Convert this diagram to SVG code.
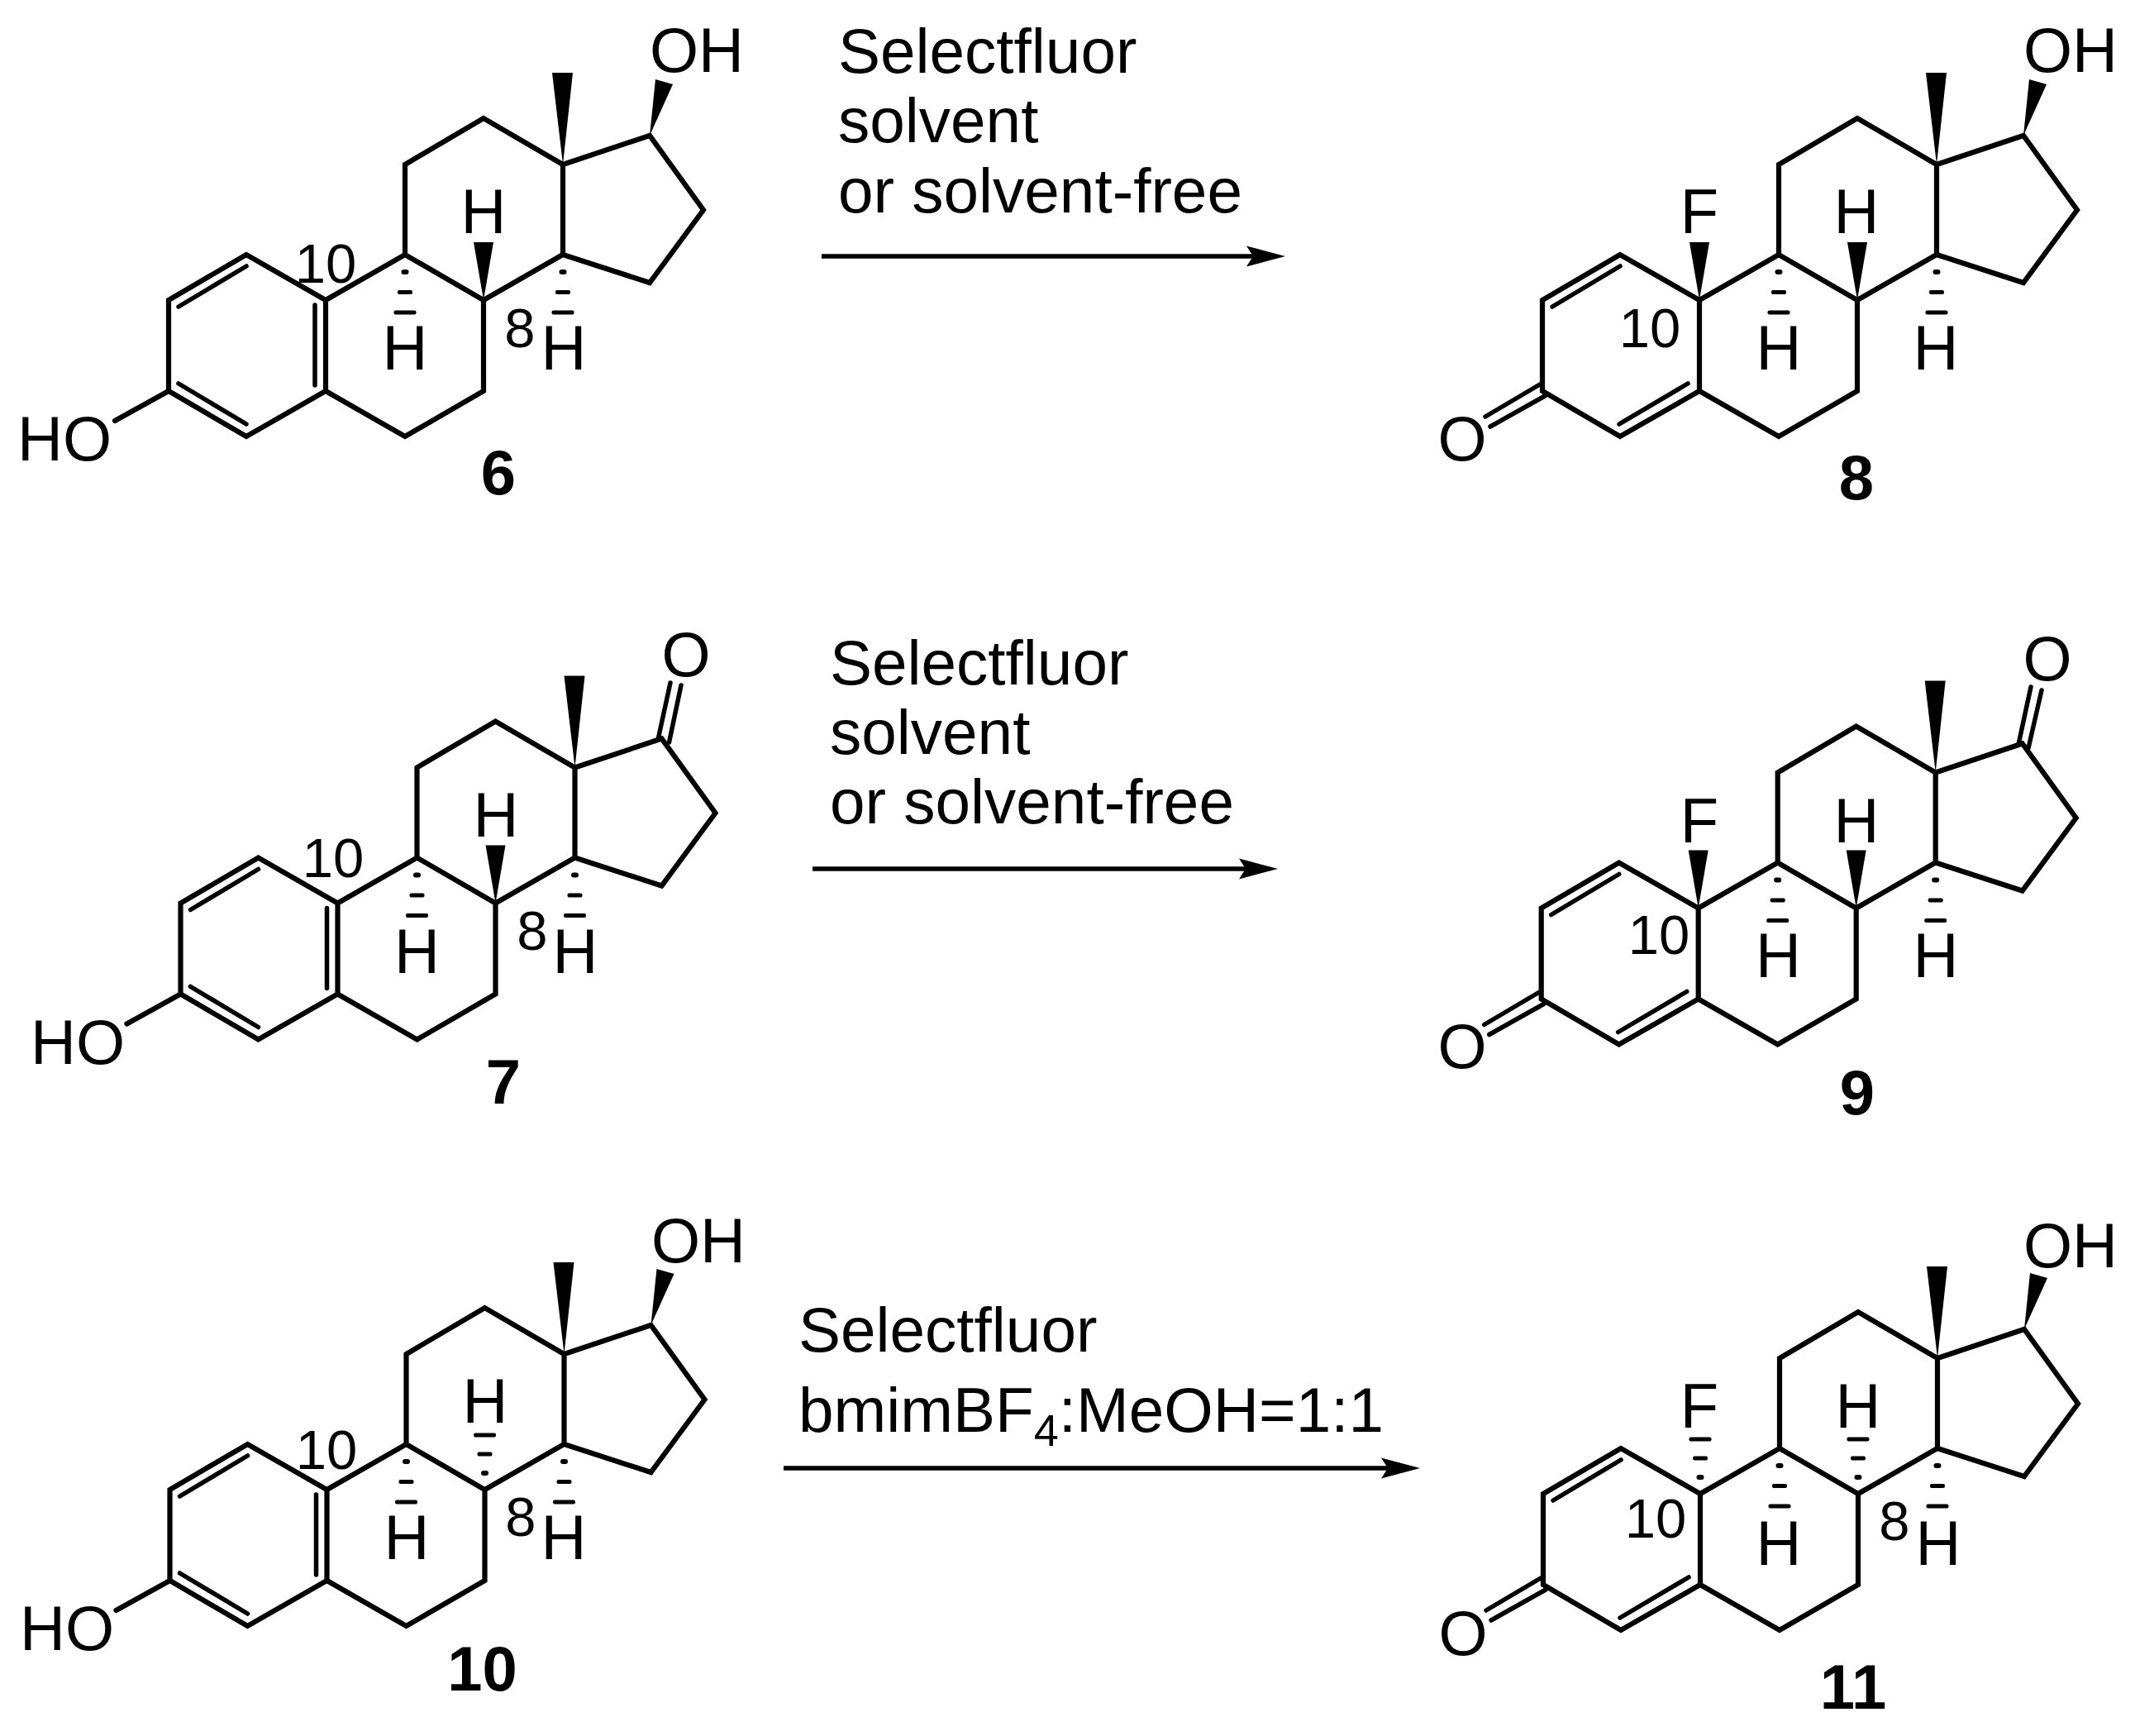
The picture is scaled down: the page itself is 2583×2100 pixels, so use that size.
<svg xmlns="http://www.w3.org/2000/svg" xmlns:xlink="http://www.w3.org/1999/xlink" width="2583" height="2100" viewBox="0 0 2583 2100">
<style>
text{font-family:"Liberation Sans",Arial,sans-serif;fill:#000}
.a{font-size:76px}
.m{font-size:76px;text-anchor:middle}
.n{font-size:67px;text-anchor:middle}
.b{font-size:76px;font-weight:bold;text-anchor:middle}
.r{font-size:76.5px}
.bond{fill:none;stroke:#000;stroke-width:6.2;stroke-linejoin:miter;stroke-linecap:round}
.inner{fill:none;stroke:#000;stroke-width:5.5;stroke-linecap:round}
.arrow{fill:none;stroke:#000;stroke-width:5.5}
</style>
<defs>
<path id="core" class="bond" d="M-190,110L-190,0L-96,-55L0,0L0,110L-96,165ZM0,110L96,165L191,110L191,0L96,-55L0,0M96,-55L96,-164L191,-220L287,-164L287,-55L191,0M287,-164L392,-199L457,-109L392,-21L287,-55"/>
<path id="arene" class="inner" d="M-178,8L-96,-41M-13,6L-13,103M-178,101L-96,150"/>
<path id="phenol-o" class="bond" d="M-190,110L-255,146"/>
<path id="enone" class="inner" d="M-178,8L-96,-41M-97,150L-14,101M-193,102L-259,141M-187,116L-253,153"/>
<polygon id="wedge-me" points="0,0 -13,-111 12,-111"/>
<polygon id="wedge-up" points="0,0 -12,-70 12,-70"/>
<polygon id="wedge-oh" points="0,0 7,-68 28,-62"/>
<g id="hash-down"><rect x="-4.5" y="18" width="9" height="6" rx="3"/><rect x="-9" y="43" width="18" height="5" rx="2"/><rect x="-13.5" y="67.5" width="27" height="5" rx="2"/></g>
<g id="hash-up"><rect x="-13.5" y="-68.5" width="27" height="5" rx="2"/><rect x="-9" y="-45.5" width="18" height="5" rx="2"/><rect x="-4.5" y="-23" width="9" height="6" rx="3"/></g>
<polygon id="head" points="0,0 -47,-12.5 -39,0 -47,12.5"/>
</defs>

<g id="compound-6">
<g transform="translate(394,363)"><use href="#core"/><use href="#arene"/><use href="#phenol-o"/>
<use href="#wedge-me" x="287" y="-164"/><use href="#wedge-oh" x="392" y="-199"/><use href="#wedge-up" x="191" y="0"/><use href="#hash-down" x="96" y="-55"/><use href="#hash-down" x="287" y="-55"/></g>
<text class="a" x="21" y="557">HO</text><text class="a" x="786" y="87">OH</text>
<text class="m" x="585" y="282">H</text><text class="m" x="490" y="447">H</text><text class="m" x="682" y="447">H</text>
<text class="n" x="394" y="342">10</text><text class="n" x="629" y="420">8</text><text class="b" x="603" y="598">6</text>
</g>

<g id="compound-8">
<g transform="translate(2056,363)"><use href="#core"/><use href="#enone"/>
<use href="#wedge-me" x="287" y="-164"/><use href="#wedge-oh" x="392" y="-199"/><use href="#wedge-up" x="191" y="0"/><use href="#wedge-up" x="0" y="0"/><use href="#hash-down" x="96" y="-55"/><use href="#hash-down" x="287" y="-55"/></g>
<text class="m" x="1769" y="557">O</text><text class="a" x="2448" y="87">OH</text>
<text class="m" x="2056" y="282">F</text><text class="m" x="2246" y="282">H</text><text class="m" x="2152" y="447">H</text><text class="m" x="2342" y="447">H</text>
<text class="n" x="1996" y="420">10</text><text class="b" x="2246" y="604">8</text>
</g>

<g id="compound-7">
<g transform="translate(408.5,1092.5)"><use href="#core"/><use href="#arene"/><use href="#phenol-o"/>
<use href="#wedge-me" x="287" y="-164"/><use href="#wedge-up" x="191" y="0"/><use href="#hash-down" x="96" y="-55"/><use href="#hash-down" x="287" y="-55"/></g>
<path class="inner" d="M796,895L811,826M809.5,898L824,829"/>
<text class="a" x="37" y="1287">HO</text><text class="m" x="830" y="818">O</text>
<text class="m" x="600" y="1011.5">H</text><text class="m" x="504.5" y="1177">H</text><text class="m" x="696" y="1177">H</text>
<text class="n" x="403" y="1061">10</text><text class="n" x="644" y="1149">8</text><text class="b" x="609" y="1335">7</text>
</g>

<g id="compound-9">
<g transform="translate(2054.7,1098.5)"><use href="#core"/><use href="#enone"/>
<use href="#wedge-me" x="287" y="-164"/><use href="#wedge-up" x="191" y="0"/><use href="#wedge-up" x="0" y="0"/><use href="#hash-down" x="96" y="-55"/><use href="#hash-down" x="287" y="-55"/></g>
<path class="inner" d="M2442,900.5L2457,831M2454,905L2470,835"/>
<text class="m" x="1769" y="1292">O</text><text class="m" x="2477" y="823">O</text>
<text class="m" x="2056" y="1018.5">F</text><text class="m" x="2246" y="1018.5">H</text><text class="m" x="2151.5" y="1182">H</text><text class="m" x="2342" y="1182">H</text>
<text class="n" x="2007" y="1154">10</text><text class="b" x="2247" y="1348">9</text>
</g>

<g id="compound-10">
<g transform="translate(395.5,1802)"><use href="#core"/><use href="#arene"/><use href="#phenol-o"/>
<use href="#wedge-me" x="287" y="-164"/><use href="#wedge-oh" x="392" y="-199"/><use href="#hash-up" x="191" y="0"/><use href="#hash-down" x="96" y="-55"/><use href="#hash-down" x="287" y="-55"/></g>
<text class="a" x="24" y="1996">HO</text><text class="a" x="788" y="1527">OH</text>
<text class="m" x="587" y="1721">H</text><text class="m" x="492" y="1886">H</text><text class="m" x="682" y="1886">H</text>
<text class="n" x="395" y="1777">10</text><text class="n" x="630" y="1858">8</text><text class="b" x="583.5" y="2045">10</text>
</g>

<g id="compound-11">
<g transform="translate(2057,1807)"><use href="#core"/><use href="#enone"/>
<use href="#wedge-me" x="287" y="-164"/><use href="#wedge-oh" x="392" y="-199"/><use href="#hash-up" x="191" y="0"/><use href="#hash-up" x="0" y="0"/><use href="#hash-down" x="96" y="-55"/><use href="#hash-down" x="287" y="-55"/></g>
<text class="m" x="1770" y="2002">O</text><text class="a" x="2448" y="1532.5">OH</text>
<text class="m" x="2056" y="1727">F</text><text class="m" x="2248" y="1727">H</text><text class="m" x="2152" y="1892.5">H</text><text class="m" x="2345" y="1892.5">H</text>
<text class="n" x="2003" y="1860">10</text><text class="n" x="2292" y="1863">8</text><text class="b" x="2242" y="2067">11</text>
</g>

<g id="connectors">
<path class="arrow" d="M994,310H1520"/><use href="#head" x="1555" y="310"/>
<path class="arrow" d="M983,1051H1510"/><use href="#head" x="1546" y="1051"/>
<path class="arrow" d="M948,1776H1685"/><use href="#head" x="1718" y="1776"/>
</g>

<g id="conditions-1">
<text class="r" x="1014" y="88">Selectfluor</text><text class="r" x="1014" y="172">solvent</text><text class="r" x="1014" y="256.5">or solvent-free</text>
</g>
<g id="conditions-2">
<text class="r" x="1004" y="827.5">Selectfluor</text><text class="r" x="1004" y="911.5">solvent</text><text class="r" x="1004" y="996">or solvent-free</text>
</g>
<g id="conditions-3">
<text class="r" x="966" y="1634.5">Selectfluor</text>
<text class="r" x="966" y="1732">bmimBF<tspan font-size="54" dy="16.5">4</tspan><tspan dy="-16.5">:MeOH=1:1</tspan></text>
</g>
</svg>
